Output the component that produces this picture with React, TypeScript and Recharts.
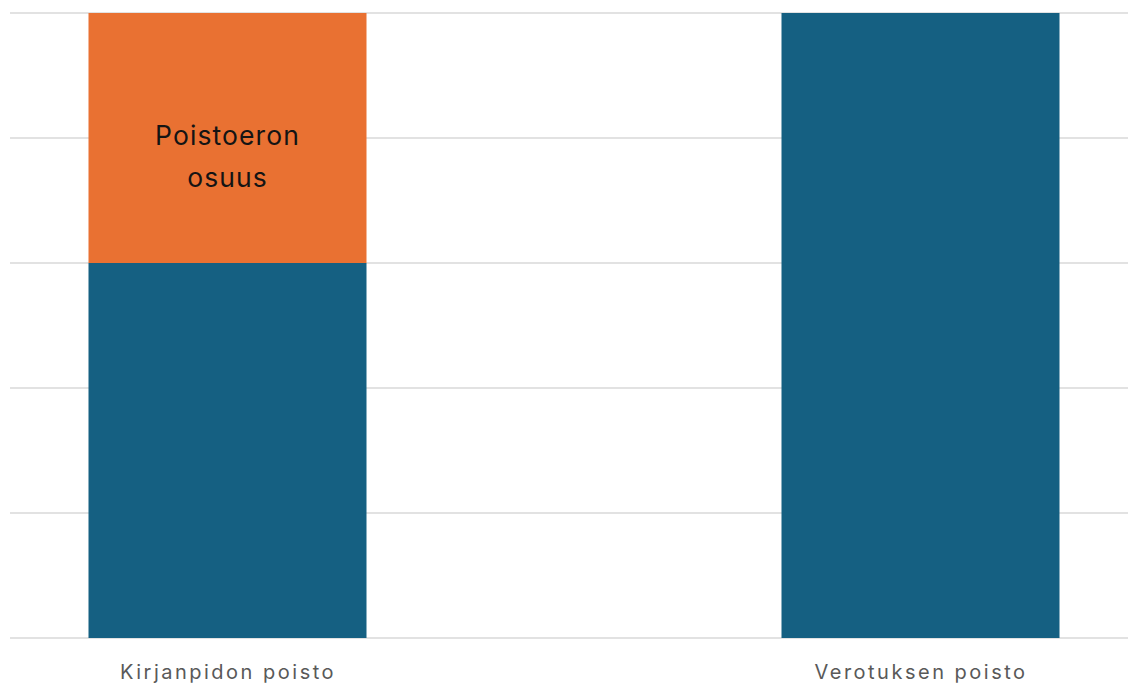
import React from 'react';
import { BarChart, Bar, XAxis, YAxis, CartesianGrid, LabelList } from 'recharts';

const categories = ['Kirjanpidon poisto', 'Verotuksen poisto'];
const positions = [0, 1];
const baseValues = [3, 5];
const diffValues = [2, 0];
const yTicks = [0, 1, 2, 3, 4, 5];
const diffLabelLines = ['Poistoeron', 'osuus'];

const data = categories.map((name, i) => ({
  name,
  x: positions[i],
  base: baseValues[i],
  diff: diffValues[i],
}));

const DiffLabel = (props: any) => {
  const { x, y, width, height, value } = props;
  if (!value) return null;
  const cx = x + width / 2;
  const cy = y + height / 2;
  return (
    <text
      x={cx}
      y={cy}
      textAnchor="middle"
      fill="#141414"
      style={{ fontFamily: 'Inter, "Noto Sans", sans-serif', fontSize: 26.5, letterSpacing: 1.1 }}
    >
      <tspan x={cx} y={cy + 7}>{diffLabelLines[0]}</tspan>
      <tspan x={cx} y={cy + 49}>{diffLabelLines[1]}</tspan>
    </text>
  );
};

export default function App() {
  return (
    <div style={{ position: 'absolute', left: 0, top: 0, width: 1128, height: 686, background: '#fff', overflow: 'hidden' }}>
      <BarChart
        width={1128}
        height={686}
        data={data}
        margin={{ top: 13, right: 0, bottom: 0, left: 10 }}
      >
        <CartesianGrid vertical={false} stroke="#d9d9d9" strokeWidth={1.5} />
        <XAxis
          dataKey="x"
          type="number"
          domain={[-218 / 693, 1 + 207 / 693]}
          allowDataOverflow
          ticks={positions}
          tickFormatter={(v: number) => categories[v] ?? ''}
          axisLine={false}
          tickLine={false}
          tickSize={0}
          tickMargin={27}
          height={48}
          interval={0}
          tick={{ fill: '#595959', fontSize: 20, letterSpacing: 2.5, fontFamily: 'Inter, "Noto Sans", sans-serif' }}
        />
        <YAxis hide domain={[0, 5]} ticks={yTicks} />
        <Bar dataKey="base" stackId="a" fill="#156082" barSize={278} isAnimationActive={false} />
        <Bar dataKey="diff" stackId="a" fill="#E97132" barSize={278} isAnimationActive={false}>
          <LabelList dataKey="diff" content={<DiffLabel />} />
        </Bar>
      </BarChart>
    </div>
  );
}
